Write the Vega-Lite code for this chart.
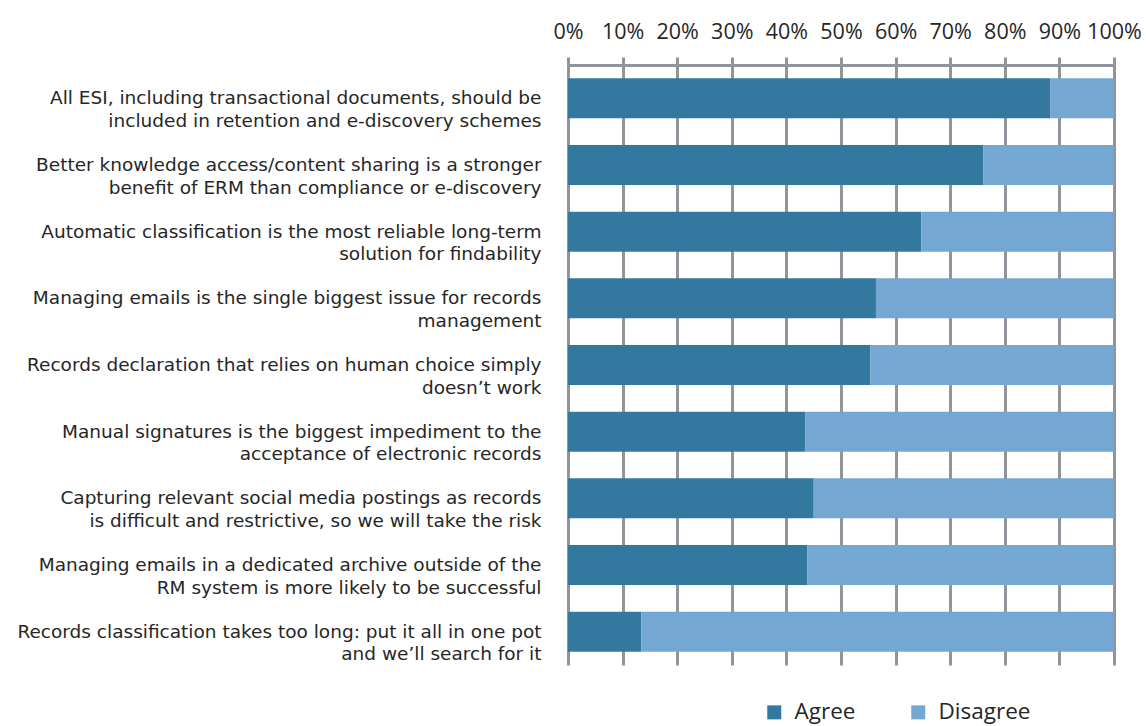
{
  "$schema": "https://vega.github.io/schema/vega-lite/v6.json",
  "width": 546,
  "height": 600,
  "autosize": {"type": "none"},
  "padding": {"left": 568, "top": 65, "right": 32, "bottom": 61},
  "background": "white",
  "data": {
    "values": [
      {"statement": "All ESI, including transactional documents, should be|included in retention and e-discovery schemes", "response": "Agree", "value": 88.3},
      {"statement": "All ESI, including transactional documents, should be|included in retention and e-discovery schemes", "response": "Disagree", "value": 11.7},
      {"statement": "Better knowledge access/content sharing is a stronger|benefit of ERM than compliance or e-discovery", "response": "Agree", "value": 76.1},
      {"statement": "Better knowledge access/content sharing is a stronger|benefit of ERM than compliance or e-discovery", "response": "Disagree", "value": 23.9},
      {"statement": "Automatic classification is the most reliable long-term|solution for findability", "response": "Agree", "value": 64.7},
      {"statement": "Automatic classification is the most reliable long-term|solution for findability", "response": "Disagree", "value": 35.3},
      {"statement": "Managing emails is the single biggest issue for records|management", "response": "Agree", "value": 56.4},
      {"statement": "Managing emails is the single biggest issue for records|management", "response": "Disagree", "value": 43.6},
      {"statement": "Records declaration that relies on human choice simply|doesn’t work", "response": "Agree", "value": 55.4},
      {"statement": "Records declaration that relies on human choice simply|doesn’t work", "response": "Disagree", "value": 44.6},
      {"statement": "Manual signatures is the biggest impediment to the|acceptance of electronic records", "response": "Agree", "value": 43.5},
      {"statement": "Manual signatures is the biggest impediment to the|acceptance of electronic records", "response": "Disagree", "value": 56.5},
      {"statement": "Capturing relevant social media postings as records|is difficult and restrictive, so we will take the risk", "response": "Agree", "value": 45.0},
      {"statement": "Capturing relevant social media postings as records|is difficult and restrictive, so we will take the risk", "response": "Disagree", "value": 55.0},
      {"statement": "Managing emails in a dedicated archive outside of the|RM system is more likely to be successful", "response": "Agree", "value": 43.8},
      {"statement": "Managing emails in a dedicated archive outside of the|RM system is more likely to be successful", "response": "Disagree", "value": 56.2},
      {"statement": "Records classification takes too long: put it all in one pot|and we’ll search for it", "response": "Agree", "value": 13.4},
      {"statement": "Records classification takes too long: put it all in one pot|and we’ll search for it", "response": "Disagree", "value": 86.6}
    ]
  },
  "mark": {"type": "bar"},
  "encoding": {
    "y": {
      "field": "statement",
      "type": "nominal",
      "sort": null,
      "scale": {"paddingInner": 0.4, "paddingOuter": 0.2},
      "axis": {
        "title": null,
        "domain": false,
        "ticks": false,
        "grid": false,
        "labelExpr": "split(datum.label, '|')",
        "labelFont": "DejaVu Sans",
        "labelFontSize": 18.5,
        "labelLineHeight": 22.5,
        "labelColor": "#262626",
        "labelPadding": 27,
        "labelLimit": 600
      }
    },
    "x": {
      "field": "value",
      "type": "quantitative",
      "stack": "normalize",
      "scale": {"domain": [0, 1], "nice": false},
      "axis": {
        "orient": "top",
        "title": null,
        "format": ".0%",
        "values": [0, 0.1, 0.2, 0.3, 0.4, 0.5, 0.6, 0.7, 0.8, 0.9, 1],
        "labelOverlap": false,
        "labelFont": "Open Sans",
        "labelFontSize": 21.5,
        "labelColor": "#262626",
        "labelPadding": 14,
        "labelFlush": false,
        "domainColor": "#8f959a",
        "domainWidth": 3,
        "tickColor": "#8f959a",
        "tickWidth": 3,
        "tickSize": 8,
        "grid": true,
        "gridColor": "#8f959a",
        "gridWidth": 3,
        "gridOpacity": 1
      }
    },
    "color": {
      "field": "response",
      "type": "nominal",
      "scale": {"domain": ["Agree", "Disagree"], "range": ["#33789f", "#74a7d2"]},
      "legend": {
        "title": null,
        "orient": "none",
        "direction": "horizontal",
        "legendX": 195,
        "legendY": 636,
        "symbolType": "square",
        "symbolSize": 196,
        "symbolStrokeWidth": 0,
        "labelFont": "Open Sans",
        "labelFontSize": 22.5,
        "labelColor": "#262626",
        "labelOffset": 9,
        "columnPadding": 51
      }
    },
    "order": {"field": "response", "sort": "ascending"}
  },
  "config": {"view": {"stroke": null}}
}
